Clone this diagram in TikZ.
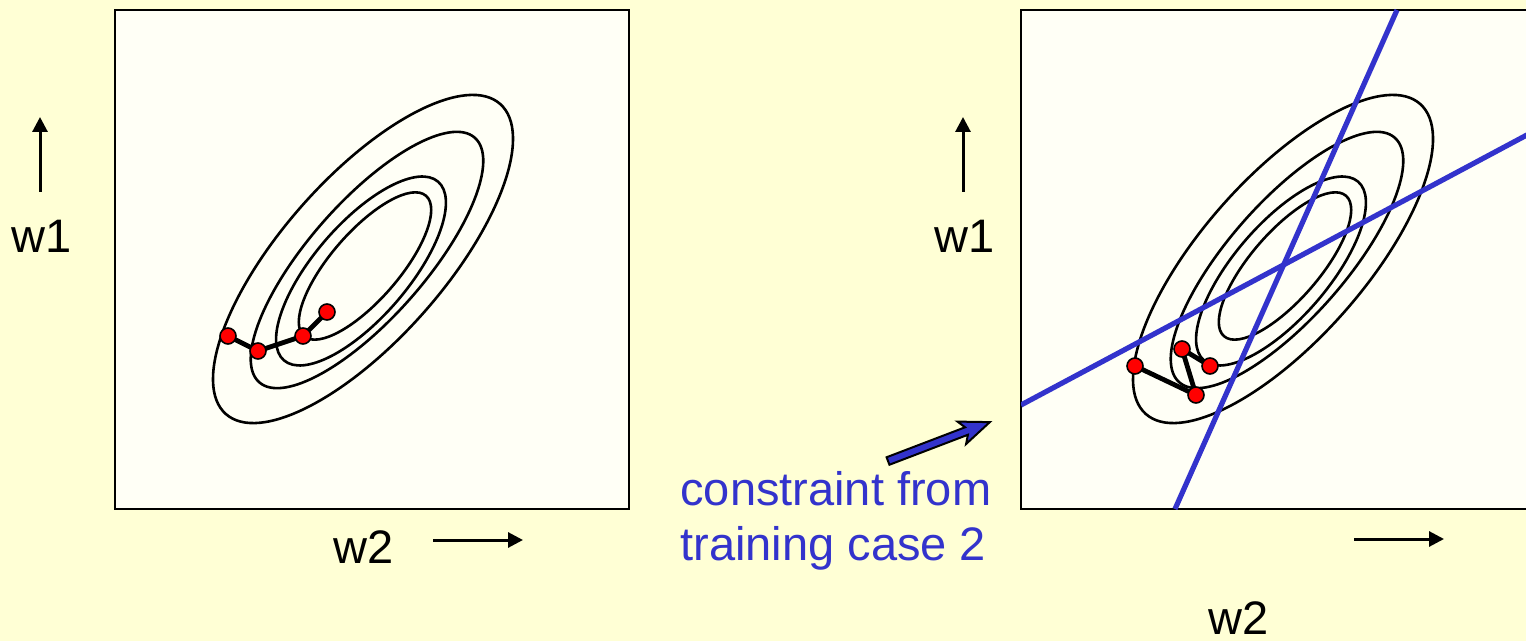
\documentclass[tikz,border=0pt]{standalone}
\usepackage{fontspec}
\setmainfont{Liberation Sans}
\usepackage{tikz}
\usetikzlibrary{arrows.meta}
\definecolor{slidebg}{RGB}{255,255,213}
\definecolor{panelbg}{RGB}{255,255,246}
\definecolor{constraintblue}{RGB}{51,51,204}

% error surface contours, in pixel coordinates of the left panel
\newcommand{\errorcontours}{%
  \draw[contour, shift={(363,259)}, rotate=48.5] (0,0) ellipse [x radius=207, y radius=81];
  \draw[contour, shift={(367,260)}, rotate=48.6] (0,0) ellipse [x radius=163, y radius=58];
  \draw[contour, shift={(361,271)}, rotate=49.2] (0,0) ellipse [x radius=118, y radius=47];
  \draw[contour, shift={(365,266)}, rotate=49.0] (0,0) ellipse [x radius=93, y radius=34];
}

\begin{document}
\begin{tikzpicture}[x=0.5pt, y=-0.5pt, >={Triangle[length=7.5pt, width=7.5pt]},
    contour/.style={line width=1.3pt},
    axis/.style={->, line width=1.5pt},
    label/.style={font=\fontsize{23.5}{27.5}\selectfont, inner sep=0pt},
    wdot/.style={circle, fill=red, draw=black, line width=0.8pt, minimum size=8pt, inner sep=0pt},
    steppath/.style={line width=2.4pt},
    constraint/.style={line width=2.6pt, draw=constraintblue}]

    \useasboundingbox (0,0) rectangle (1526,641);
    \clip (0,0) rectangle (1526,641);
    \fill[slidebg] (0,0) rectangle (1526,641);

    % Left panel
    \draw[fill=panelbg, line width=1.4pt] (115,10) rectangle (629,509);
    \errorcontours

    % Learning path, left
    \coordinate (a1) at (228,336);
    \coordinate (a2) at (258,351);
    \coordinate (a3) at (303,336);
    \coordinate (a4) at (327,312);
    \draw[steppath] (a1) -- (a2) -- (a3) -- (a4);
    \foreach \p in {a1,a2,a3,a4}
      \node[wdot] (d\p) at (\p) {};

    % Axes, left
    \coordinate (wonetail) at (40,192);
    \coordinate (wonetip) at (40,117);
    \draw[axis] (wonetail) -- (wonetip);
    \node[label, anchor=base] (wone) at (42,253) {w1};
    \coordinate (wtwotail) at (433,540);
    \coordinate (wtwotip) at (523,540);
    \draw[axis] (wtwotail) -- (wtwotip);
    \node[label, anchor=base] (wtwo) at (364,563) {w2};

    % Right panel
    \draw[fill=panelbg, line width=1.4pt] (1021,10) rectangle (1600,509);
    \begin{scope}[shift={(920,0)}]
      \errorcontours
    \end{scope}

    % Constraint lines
    \begin{scope}
      \clip (1021,10) rectangle (1600,509);
      \coordinate (caseonetop) at (1397,10);
      \coordinate (caseonebot) at (1175,509);
      \coordinate (casetwoleft) at (1021,405);
      \coordinate (casetworight) at (1540,128);
      \draw[constraint] (caseonetop) -- (caseonebot);
      \draw[constraint] (casetwoleft) -- (casetworight);
    \end{scope}

    % Learning path, right
    \coordinate (b1) at (1135,366);
    \coordinate (b2) at (1196,395);
    \coordinate (b3) at (1182,349);
    \coordinate (b4) at (1210,366);
    \draw[steppath] (b1) -- (b2) -- (b3) -- (b4);
    \foreach \p in {b1,b2,b3,b4}
      \node[wdot] (d\p) at (\p) {};

    % Axes, right
    \coordinate (vonetail) at (963,192);
    \coordinate (vonetip) at (963,117);
    \draw[axis] (vonetail) -- (vonetip);
    \node[label, anchor=base] (vone) at (965,253) {w1};
    \coordinate (vtwotail) at (1354,539);
    \coordinate (vtwotip) at (1444,539);
    \draw[axis] (vtwotail) -- (vtwotip);
    \node[label, anchor=base] (vtwo) at (1239,634) {w2};

    % Pointer to constraint
    \coordinate (hint) at (888,461);
    \begin{scope}[shift={(hint)}, rotate=20.9]
      \draw[fill=constraintblue, line width=1pt, line join=miter]
        (0,-4) -- (84,-4) -- (79,-12) -- (109,0) -- (79,12) -- (84,4) -- (0,4) -- cycle;
    \end{scope}
    \node[label, anchor=north west, align=left, text=constraintblue] (hinttext) at (680,471)
      {constraint from\\training case 2};
\end{tikzpicture}
\end{document}
